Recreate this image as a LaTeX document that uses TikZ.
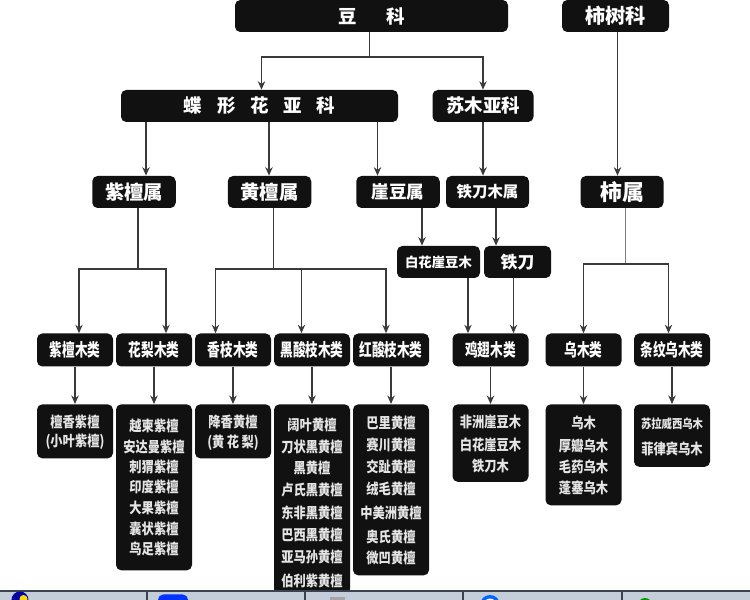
\documentclass[tikz,border=0pt]{standalone}
\usepackage{fontspec}
\usetikzlibrary{arrows.meta}
\setmainfont{Noto Sans CJK SC}
\newfontfamily\sortcjk{Noto Sans CJK SC}[FakeStretch=0.72]
\newfontfamily\namecjk{Noto Sans CJK SC}[FakeStretch=0.84]
\definecolor{woodblk}{HTML}{111111}
\definecolor{woodline}{HTML}{3A3A3A}
\definecolor{barface}{HTML}{C3CEDA}
\definecolor{baredge}{HTML}{3C434C}

\begin{document}
\begin{tikzpicture}[
    >={Stealth[length=4.8pt,width=4.2pt]},
    % Styles
    rankbox/.style={
        rectangle, rounded corners=3pt,
        fill=woodblk, text=white, inner sep=0pt,
        font=\bfseries, align=center
    },
    headbox/.style={rankbox, minimum height=0.64cm},
    sortbox/.style={rankbox, minimum width=1.52cm, minimum height=0.66cm, font=\sortcjk\fontsize{10}{12}\selectfont\bfseries},
    namebox/.style={rankbox, minimum width=1.52cm, anchor=north},
    namelabel/.style={text=white!90!black, font=\namecjk\fontsize{8.3}{10}\selectfont\bfseries},
    arr/.style={draw=woodline, thick, ->},
    forkarr/.style={draw=woodline, semithick, ->},
    link/.style={draw=woodline, semithick},
]

\useasboundingbox (0,0) rectangle (15,12);

%--- Family row ---
\node[headbox, minimum width=5.46cm, font=\fontsize{10.5}{12}\selectfont\bfseries] (douke) at (7.43, 11.68) {豆\hspace{1.6em}科};
\node[headbox, minimum width=2.14cm, font=\fontsize{11.5}{12}\selectfont\bfseries] (shishuke) at (12.31, 11.68) {柿树科};

%--- Subfamily row ---
\node[headbox, minimum width=5.54cm, font=\fontsize{10.5}{12}\selectfont\bfseries] (diexing) at (5.19, 9.88) {蝶\hspace{0.8em}形\hspace{0.8em}花\hspace{0.8em}亚\hspace{0.8em}科};
\node[headbox, minimum width=2.02cm, font=\fontsize{10.5}{12}\selectfont\bfseries] (sumu) at (9.66, 9.88) {苏木亚科};

%--- Genus row ---
\node[headbox, minimum width=1.67cm, font=\fontsize{11}{12}\selectfont\bfseries] (zitan) at (2.68, 8.16) {紫檀属};
\node[headbox, minimum width=1.67cm, font=\fontsize{11}{12}\selectfont\bfseries] (huangtan) at (5.39, 8.16) {黄檀属};
\node[headbox, minimum width=1.67cm, font=\fontsize{10}{12}\selectfont\bfseries] (yadou) at (7.96, 8.16) {崖豆属};
\node[headbox, minimum width=1.66cm, font=\fontsize{8.8}{12}\selectfont\bfseries] (tiedaomu) at (9.75, 8.16) {铁刀木属};
\node[headbox, minimum width=1.66cm, font=\fontsize{12.5}{12}\selectfont\bfseries] (shishu) at (12.44, 8.16) {柿属};

%--- Two extra genus boxes ---
\node[headbox, minimum width=1.66cm, font=\fontsize{7.6}{12}\selectfont\bfseries] (baihua) at (8.77, 6.76) {白花崖豆木};
\node[headbox, minimum width=1.34cm, font=\fontsize{9.6}{12}\selectfont\bfseries] (tiedao) at (10.35, 6.76) {铁刀};

%--- Wood groups ---
\node[sortbox] (zitanlei) at (1.50, 5.00) {紫檀木类};
\node[sortbox] (hualilei) at (3.08, 5.00) {花梨木类};
\node[sortbox] (xiangzhi) at (4.66, 5.00) {香枝木类};
\node[sortbox] (heisuan) at (6.24, 5.00) {黑酸枝木类};
\node[sortbox] (hongsuan) at (7.82, 5.00) {红酸枝木类};
\node[sortbox] (jichi) at (9.81, 5.00) {鸡翅木类};
\node[sortbox] (wumu) at (11.67, 5.00) {乌木类};
\node[sortbox] (tiaowen) at (13.44, 5.00) {条纹乌木类};

%--- Species boxes ---
\node[namebox, minimum height=1.08cm] (zitanbox) at (1.50, 3.92) {};
\node[namelabel] (za) at (1.50, 3.56) {檀香紫檀};
\node[namelabel] (zb) at (1.50, 3.16) {(小叶紫檀)};

\node[namebox, minimum height=3.32cm] (hualibox) at (3.08, 3.92) {};
\foreach \name/\ypos/\txt in {ha/3.48/越柬紫檀, hb/3.06/安达曼紫檀, hc/2.66/刺猬紫檀, hd/2.26/印度紫檀, he/1.84/大果紫檀, hf/1.42/囊状紫檀, hg/1.02/鸟足紫檀}
    \node[namelabel] (\name) at (3.08, \ypos) {\txt};

\node[namebox, minimum height=1.08cm] (xiangbox) at (4.66, 3.92) {};
\node[namelabel] (xa) at (4.66, 3.56) {降香黄檀};
\node[namelabel] (xb) at (4.66, 3.14) {(黄\,花\,梨)};

\node[namebox, minimum height=3.8cm] (heibox) at (6.24, 3.92) {};
\foreach \name/\ypos/\txt in {ka/3.50/阔叶黄檀, kb/3.06/刀状黑黄檀, kc/2.64/黑黄檀, kd/2.20/卢氏黑黄檀, ke/1.74/东非黑黄檀, kf/1.30/巴西黑黄檀, kg/0.86/亚马孙黄檀, kh/0.38/伯利紫黄檀}
    \node[namelabel] (\name) at (6.24, \ypos) {\txt};

\node[namebox, minimum height=3.42cm] (hongbox) at (7.82, 3.92) {};
\foreach \name/\ypos/\txt in {ra/3.54/巴里黄檀, rb/3.10/赛川黄檀, rc/2.66/交趾黄檀, rd/2.22/绒毛黄檀, re/1.74/中美洲黄檀, rf/1.26/奥氏黄檀, rg/0.84/微凹黄檀}
    \node[namelabel] (\name) at (7.82, \ypos) {\txt};

\node[namebox, minimum height=1.55cm] (jichibox) at (9.81, 3.92) {};
\foreach \name/\ypos/\txt in {ja/3.56/非洲崖豆木, jb/3.10/白花崖豆木, jc/2.68/铁刀木}
    \node[namelabel] (\name) at (9.81, \ypos) {\txt};

\node[namebox, minimum height=2.02cm] (wubox) at (11.67, 3.92) {};
\foreach \name/\ypos/\txt in {wa/3.54/乌木, wb/3.08/厚瓣乌木, wc/2.66/毛药乌木, wd/2.24/蓬塞乌木}
    \node[namelabel] (\name) at (11.67, \ypos) {\txt};

\node[namebox, minimum height=1.25cm] (tiaobox) at (13.44, 3.92) {};
\node[namelabel, font=\namecjk\fontsize{7}{9}\selectfont\bfseries] (ta) at (13.44, 3.52) {苏拉威西乌木};
\node[namelabel] (tb) at (13.44, 3.02) {菲律宾乌木};

%--- Branch points ---
\coordinate (forkdou) at (7.39, 10.86);
\coordinate (forkzi) at (2.76, 6.62);
\coordinate (forkhuang) at (5.47, 6.62);
\coordinate (forkshi) at (12.51, 6.72);

%--- Arrow lanes (x only) ---
\foreach \name/\xpos in {ldie/5.23, lshi/12.35, lzit/2.92, lhua/5.38, lyad/7.55, lbai/8.44, ltie/9.92, lzil/1.58, lhul/3.32, lxia/4.31, lhei/6.03, lhon/7.72, ljia/9.36, ljib/10.27, ltia/13.37}
    \coordinate (\name) at (\xpos, 0);

%--- Arrows: family to genus ---
\draw[link] (douke.south -| forkdou) -- (forkdou);
\draw[forkarr] (forkdou) -| (diexing.north -| ldie);
\draw[forkarr] (forkdou) -| (sumu.north);
\draw[arr] (shishuke.south -| lshi) -- (shishu.north -| lshi);
\draw[arr] (diexing.south -| lzit) -- (zitan.north -| lzit);
\draw[arr] (diexing.south -| lhua) -- (huangtan.north -| lhua);
\draw[arr] (diexing.south -| lyad) -- (yadou.north -| lyad);
\draw[arr] (sumu.south) -- (tiedaomu.north -| sumu.south);
\draw[arr] (yadou.south -| lbai) -- (baihua.north -| lbai);
\draw[arr] (tiedaomu.south -| ltie) -- (tiedao.north -| ltie);

%--- Arrows: genus to wood group ---
\draw[link] (zitan.south -| forkzi) -- (forkzi);
\draw[forkarr] (forkzi) -| (zitanlei.north -| lzil);
\draw[forkarr] (forkzi) -| (hualilei.north -| lhul);
\draw[link] (huangtan.south -| forkhuang) -- (forkhuang);
\draw[forkarr] (forkhuang) -| (xiangzhi.north -| lxia);
\draw[forkarr] (forkhuang) -| (heisuan.north -| lhei);
\draw[forkarr] (forkhuang) -| (hongsuan.north -| lhon);
\draw[forkarr] (baihua.south -| ljia) -- (jichi.north -| ljia);
\draw[forkarr] (tiedao.south -| ljib) -- (jichi.north -| ljib);
\draw[link, gray, thin] (shishu.south -| forkshi) -- (forkshi);
\draw[forkarr] (forkshi) -| (wumu.north);
\draw[forkarr] (forkshi) -| (tiaowen.north -| ltia);

%--- Arrows: wood group to species ---
\draw[arr] (zitanlei.south) -- (zitanbox.north);
\draw[arr] (hualilei.south) -- (hualibox.north);
\draw[arr] (xiangzhi.south) -- (xiangbox.north);
\draw[arr] (heisuan.south) -- (heibox.north);
\draw[arr] (hongsuan.south) -- (hongbox.north);
\draw[arr] (jichi.south) -- (jichibox.north);
\draw[arr] (wumu.south) -- (wubox.north);
\draw[arr] (tiaowen.south) -- (tiaobox.north);

%--- Task bar ---
\fill[barface] (0,0) rectangle (15,0.18);
\draw[baredge, semithick] (0,0.18) -- (15,0.18);
\foreach \xpos in {2.94, 6.10, 9.26, 12.44}
    \draw[baredge, semithick] (\xpos,0) -- (\xpos,0.18);
\begin{scope}
    \clip (0,0) rectangle (15,0.16);
    \fill[blue!65!black] (0.40,0) circle (0.17);
    \fill[yellow!80!orange] (0.47,0.02) circle (0.08);
    \fill[blue!80!cyan, rounded corners=3pt] (3.16,-0.3) rectangle (3.76,0.11);
    \fill[gray!70] (6.60,-0.3) rectangle (6.90,0.06);
    \fill[blue!60!cyan] (9.80,-0.1) circle (0.2);
    \fill[white] (9.80,-0.1) circle (0.13);
    \fill[green!60!black] (12.90,-0.1) circle (0.14);
\end{scope}

\end{tikzpicture}
\end{document}
